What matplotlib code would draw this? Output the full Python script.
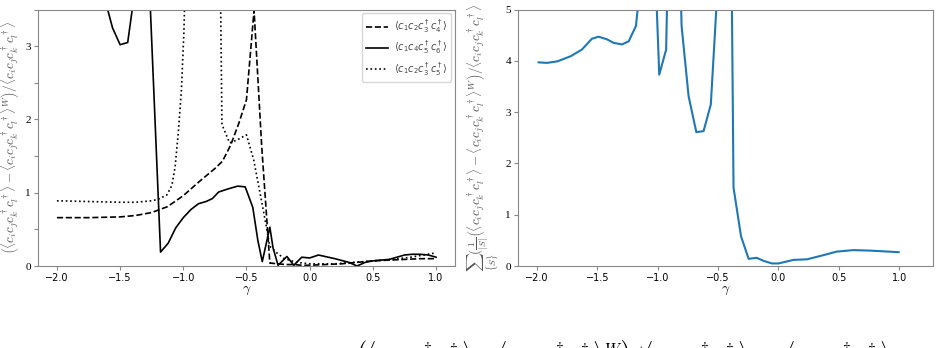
import numpy as np
import matplotlib
matplotlib.use("Agg")
import matplotlib.pyplot as plt

plt.rcParams["mathtext.fontset"] = "cm"

# left panel: three correlators vs gamma
g_dash = [-2.0, -1.875, -1.75, -1.625, -1.5, -1.375, -1.25, -1.125, -1.0, -0.875,
          -0.75, -0.69, -0.625, -0.56, -0.5, -0.44, -0.38, -0.315, -0.25, -0.19,
          -0.125, -0.06, 0.0, 0.125, 0.25, 0.375, 0.5, 0.625, 0.75, 0.875, 1.0]
v_dash = [0.66, 0.66, 0.66, 0.665, 0.67, 0.69, 0.73, 0.81, 0.96, 1.15,
          1.33, 1.43, 1.65, 1.95, 2.27, 3.49, 1.65, 0.04, 0.03, 0.02,
          0.02, 0.01, 0.01, 0.02, 0.03, 0.05, 0.07, 0.08, 0.09, 0.1, 0.1]

g_solid = [-2.0, -1.94, -1.88, -1.81, -1.75, -1.69, -1.625, -1.56, -1.5, -1.44,
           -1.38, -1.33, -1.27, -1.18, -1.12, -1.06, -1.0, -0.94, -0.88, -0.82,
           -0.77, -0.72, -0.65, -0.57, -0.51, -0.45, -0.41, -0.375, -0.315, -0.29,
           -0.25, -0.18, -0.125, -0.063, 0.0, 0.07, 0.2, 0.31, 0.375, 0.44,
           0.5, 0.56, 0.63, 0.69, 0.75, 0.81, 0.875, 0.94, 1.0]
v_solid = [9.0, 8.4, 7.6, 6.5, 5.4, 4.5, 3.67, 3.25, 3.02, 3.05,
           3.8, 6.0, 3.9, 0.19, 0.31, 0.52, 0.66, 0.77, 0.85, 0.88,
           0.92, 1.01, 1.05, 1.09, 1.08, 0.8, 0.35, 0.06, 0.53, 0.25,
           0.01, 0.13, 0.01, 0.12, 0.11, 0.15, 0.1, 0.05, 0.0, 0.05,
           0.07, 0.08, 0.09, 0.12, 0.15, 0.16, 0.16, 0.15, 0.12]

g_dot = [-2.0, -1.75, -1.5, -1.375, -1.25, -1.2, -1.13, -1.09, -1.065, -1.04,
         -1.015, -0.995, -0.98, -0.85, -0.72, -0.694, -0.633, -0.575, -0.5, -0.443,
         -0.382, -0.343, -0.316, -0.26, -0.2, -0.1, 0.0, 0.2, 0.35, 0.5,
         0.65, 0.8, 0.9, 1.0]
v_dot = [0.89, 0.88, 0.87, 0.87, 0.89, 0.91, 0.97, 1.1, 1.35, 1.81,
         2.4, 3.2, 4.2, 20.0, 6.0, 1.93, 1.68, 1.72, 1.79, 1.45,
         0.9, 0.54, 0.27, 0.18, 0.1, 0.05, 0.03, 0.03, 0.05, 0.07,
         0.09, 0.12, 0.15, 0.18]

# right panel: summed measure
g_sum = [-1.986, -1.917, -1.83, -1.72, -1.627, -1.545, -1.49, -1.42, -1.365, -1.296,
         -1.24, -1.18, -1.12, -1.05, -0.987, -0.93, -0.87, -0.802, -0.744, -0.68,
         -0.62, -0.56, -0.5, -0.44, -0.372, -0.31, -0.247, -0.18, -0.123, -0.054,
         0.0, 0.125, 0.236, 0.37, 0.48, 0.62, 0.76, 0.995]
v_sum = [3.97, 3.96, 3.99, 4.09, 4.22, 4.43, 4.47, 4.42, 4.35, 4.32,
         4.38, 4.68, 6.05, 7.7, 3.73, 4.22, 11.0, 4.68, 3.31, 2.61,
         2.63, 3.15, 5.6, 19.7, 1.53, 0.58, 0.14, 0.16, 0.1, 0.05,
         0.05, 0.12, 0.13, 0.21, 0.28, 0.31, 0.30, 0.27]

corr = r"\langle c_ic_jc_k^\dagger c_l^\dagger\rangle"
ylab_left = r"$\left(" + corr + " - " + corr + r"^W\right)/" + corr + "$"
ylab_right = r"$\sum_{\{S\}}(\frac{1}{|S|}\left(" + corr + " - " + corr + r"^W\right)/" + corr + "$"

fig = plt.figure(figsize=(9.4, 3.48), dpi=100)
ax1 = fig.add_axes([0.0404, 0.2356, 0.4436, 0.737])
ax2 = fig.add_axes([0.551, 0.2356, 0.4416, 0.737])

ax1.plot(g_dash, v_dash, color="black", ls="--", lw=1.2,
         label=r"$\langle c_1c_2c_3^\dagger c_4^\dagger\rangle$")
ax1.plot(g_solid, v_solid, color="black", ls="-", lw=1.2,
         label=r"$\langle c_1c_4c_5^\dagger c_6^\dagger\rangle$")
ax1.plot(g_dot, v_dot, color="black", ls=":", lw=1.2,
         label=r"$\langle c_1c_2c_3^\dagger c_5^\dagger\rangle$")
ax1.set_xlim(-2.15, 1.15)
ax1.set_ylim(0, 3.5)
ax1.set_yticks(np.arange(0, 3.51, 0.5))
ax1.set_yticklabels(["0", "", "1", "", "2", "", "3", ""])
ax1.set_xticks([-2.0, -1.5, -1.0, -0.5, 0.0, 0.5, 1.0])
ax1.set_xlabel(r"$\gamma$", fontsize=10, labelpad=0)
ax1.set_ylabel(ylab_left, fontsize=9.5, color="#555555", labelpad=3)
leg = ax1.legend(loc="upper right", fontsize=7, frameon=True, handlelength=2.2,
                 borderaxespad=0.4, labelspacing=0.45, borderpad=0.45,
                 handletextpad=0.6)
leg.get_frame().set_edgecolor("#cccccc")
for t in leg.get_texts():
    t.set_color("#444444")
    t.set_math_fontfamily("dejavusans")

ax2.plot(g_sum, v_sum, color="#1f77b4", lw=1.5)
ax2.set_xlim(-2.157, 1.28)
ax2.set_ylim(0, 5)
ax2.set_yticks([0, 1, 2, 3, 4, 5])
ax2.set_xticks([-2.0, -1.5, -1.0, -0.5, 0.0, 0.5, 1.0])
ax2.set_xlabel(r"$\gamma$", fontsize=10, labelpad=0)
ax2.set_ylabel(ylab_right, fontsize=9.5, color="#555555", labelpad=3)

for ax in (ax1, ax2):
    for s in ax.spines.values():
        s.set_color("#888888")
    ax.tick_params(colors="#888888", labelcolor="black", labelsize=7, length=3, pad=2)
    for lab in ax.get_yticklabels():
        lab.set_fontfamily("Liberation Serif")
        lab.set_fontsize(8)

# caption line cut off at the bottom of the picture
fig.text(0.378, 1 - 339 / 348, ylab_left + r"$\;\approx\;" + corr + "$",
         fontsize=16, va="top", ha="left")

fig.savefig("out.png", dpi=100)
